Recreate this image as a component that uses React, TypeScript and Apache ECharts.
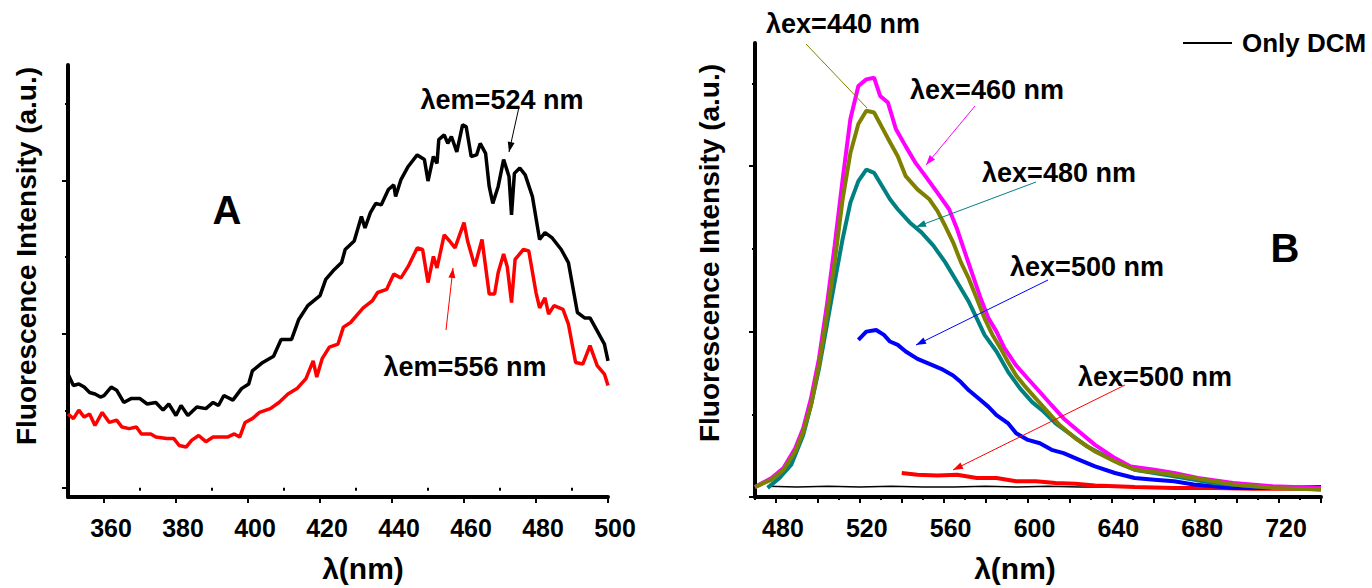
import React, { useEffect, useRef } from "react";
import * as echarts from "echarts";

const FONT = "'Liberation Sans', Arial, Helvetica, sans-serif";

// Panel A: excitation spectra, [wavelength (nm), intensity (a.u.)]
const excitationEm524: [number, number][] = [
  [350, 1.48], [351.5, 1.33], [353, 1.35], [354.5, 1.31], [356, 1.24], [357.5, 1.22], [359, 1.18], [360, 1.2],
  [362, 1.31], [363.5, 1.27], [365.5, 1.11], [367.5, 1.16], [370, 1.16], [372, 1.09], [374.4, 1.11], [376.4, 1.01],
  [378, 1.09], [380, 0.94], [381.4, 1.07], [383.3, 0.94], [385.8, 1.05], [388.3, 1.03], [390.3, 1.11], [391.8, 1.07],
  [393.3, 1.2], [395.8, 1.14], [398.2, 1.29], [400.2, 1.35], [401.2, 1.52], [404.1, 1.63], [407.1, 1.71], [409.2, 1.93],
  [412.1, 1.93], [414.1, 2.19], [416.6, 2.37], [420, 2.5], [421.6, 2.71], [424, 2.84], [426, 2.93], [427, 3.1],
  [429.5, 3.21], [431.5, 3.53], [432.5, 3.38], [434, 3.58], [435.5, 3.7], [437, 3.68], [439, 3.88], [440.5, 3.94],
  [441, 3.79], [442.5, 4.01], [444.5, 4.18], [447, 4.33], [449, 4.27], [450, 3.99], [451.5, 4.31], [452.5, 4.22],
  [453, 4.53], [454.5, 4.59], [455.5, 4.48], [456.5, 4.57], [458, 4.37], [459.6, 4.72], [460.6, 4.7], [462, 4.31],
  [463.5, 4.33], [464.5, 4.48], [466, 4.35], [467, 3.92], [468, 3.7], [469.5, 3.92], [471, 4.27], [472.5, 4.05],
  [473.2, 3.55], [474, 4.09], [475.5, 4.16], [477, 4.07], [479, 3.79], [481, 3.23], [482.5, 3.32], [484.5, 3.25],
  [487, 3.1], [489, 2.93], [491.5, 2.28], [493.5, 2.21], [495, 2.21], [497, 2.04], [499, 1.87], [500, 1.65],
];

const excitationEm556: [number, number][] = [
  [350, 0.96], [351.5, 0.9], [353, 1.01], [354.5, 0.92], [356, 0.96], [357.5, 0.81], [359.5, 0.98], [361.5, 0.85],
  [363.5, 0.88], [365, 0.79], [367, 0.77], [369, 0.79], [370.4, 0.7], [373, 0.7], [374.4, 0.66], [377.4, 0.64],
  [379.4, 0.64], [380.9, 0.55], [382.8, 0.53], [384.4, 0.62], [386.3, 0.68], [388.3, 0.6], [390.3, 0.66], [391.8, 0.66],
  [394.3, 0.66], [396.2, 0.7], [397.7, 0.66], [399.2, 0.85], [401.2, 0.9], [403.2, 0.98], [406.2, 1.03], [408.6, 1.11],
  [411.1, 1.22], [413.6, 1.29], [416.1, 1.42], [418.1, 1.65], [419.1, 1.44], [420.6, 1.68], [422.6, 1.83], [425, 1.87],
  [426.5, 2.09], [428.5, 2.15], [430.5, 2.26], [432, 2.34], [434.5, 2.43], [436, 2.54], [438.5, 2.58], [440.5, 2.78],
  [442.5, 2.73], [444.5, 2.88], [447, 3.12], [448.5, 3.1], [450, 2.67], [451.5, 3.01], [452.5, 2.86], [454.5, 3.29],
  [456, 3.21], [457.5, 3.12], [460, 3.45], [461, 3.21], [463, 2.88], [465, 3.23], [467, 2.52], [468.5, 2.52],
  [469.5, 2.8], [471, 3.04], [472, 2.88], [473.2, 2.41], [474.2, 2.97], [476.5, 3.1], [478, 3.08], [480, 2.54],
  [481, 2.34], [482.5, 2.47], [483.5, 2.26], [485, 2.37], [487.5, 2.32], [489, 2.13], [491, 1.63], [493, 1.61],
  [495, 1.85], [497, 1.59], [499, 1.48], [500, 1.33],
];

// Panel B: emission spectra, [wavelength (nm), intensity (a.u.)]
const emissionEx440: [number, number][] = [
  [470, 0.12], [477.9, 0.21], [483.6, 0.33], [489.2, 0.55], [493, 0.79], [496.7, 1.11], [500.5, 1.59], [504.3, 2.2],
  [508, 2.84], [511.8, 3.6], [515.5, 4.16], [519.3, 4.51], [523.1, 4.67], [526.8, 4.65], [530.6, 4.47], [534.4, 4.29],
  [538.1, 4.12], [541.9, 3.88], [547.5, 3.72], [553.2, 3.6], [557, 3.46], [560.7, 3.28], [564.5, 3.08], [568.2, 2.84],
  [572, 2.64], [575.8, 2.4], [579.5, 2.16], [583.3, 1.96], [587.1, 1.8], [590.8, 1.63], [594.6, 1.47], [598.4, 1.35],
  [604, 1.19], [609.7, 1.03], [615.3, 0.87], [622.8, 0.71], [632.2, 0.55], [641.7, 0.43], [651.1, 0.33], [664.2, 0.29],
  [679.3, 0.23], [698.1, 0.15], [717, 0.11], [740, 0.09],
];

const emissionEx460: [number, number][] = [
  [470, 0.12], [477.9, 0.23], [483.6, 0.35], [489.2, 0.59], [493, 0.83], [496.7, 1.19], [500.5, 1.67], [504.3, 2.32],
  [508, 3.04], [511.8, 3.84], [515.5, 4.57], [519.3, 4.97], [523.1, 5.05], [526.8, 5.07], [529.7, 4.85], [533.4, 4.77],
  [537.2, 4.45], [541.9, 4.24], [546.6, 4.04], [551.3, 3.88], [557, 3.68], [562.6, 3.48], [566.4, 3.24], [570.1, 2.96],
  [573.9, 2.68], [577.7, 2.4], [581.4, 2.16], [585.2, 2.0], [589, 1.8], [594.6, 1.59], [600.2, 1.43], [605.9, 1.27],
  [611.5, 1.11], [617.2, 0.95], [624.7, 0.79], [632.2, 0.63], [641.7, 0.47], [649.2, 0.37], [660.5, 0.33], [669.9, 0.29],
  [681.2, 0.23], [698.1, 0.17], [717, 0.13], [740, 0.11],
];

const emissionEx480: [number, number][] = [
  [476, 0.11], [481.7, 0.23], [487.3, 0.39], [493, 0.75], [496.7, 1.11], [500.5, 1.55], [504.3, 2.08], [508, 2.6],
  [511.8, 3.12], [515.5, 3.56], [519.3, 3.82], [523.1, 3.96], [526.8, 3.92], [530.6, 3.76], [534.4, 3.6], [538.1, 3.48],
  [543.8, 3.32], [549.4, 3.2], [555.1, 3.04], [560.7, 2.84], [566.4, 2.6], [572, 2.36], [575.8, 2.16], [579.5, 1.96],
  [585.2, 1.76], [590.8, 1.51], [596.5, 1.31], [602.1, 1.15], [607.8, 1.03], [613.4, 0.89], [620.9, 0.75], [628.5, 0.61],
  [636, 0.51], [643.5, 0.41], [651.1, 0.33], [669.9, 0.25], [688.7, 0.17], [707.5, 0.13], [740, 0.09],
];

const emissionEx500: [number, number][] = [
  [519.3, 1.9], [523.1, 2.0], [527.8, 2.02], [531.5, 1.96], [534.4, 1.88], [538.1, 1.84], [541.9, 1.76], [547.5, 1.67],
  [553.2, 1.61], [558.8, 1.55], [564.5, 1.47], [568.2, 1.39], [572, 1.29], [577.7, 1.17], [581.4, 1.09], [585.2, 0.99],
  [590.8, 0.89], [594.6, 0.77], [600.2, 0.69], [605.9, 0.65], [611.5, 0.57], [617.2, 0.53], [624.7, 0.45], [632.2, 0.37],
  [641.7, 0.29], [651.1, 0.23], [660.5, 0.21], [669.9, 0.19], [679.3, 0.15], [698.1, 0.11], [717, 0.11], [740, 0.12],
];

const emissionEx500Low: [number, number][] = [
  [540, 0.29], [547.5, 0.27], [557, 0.26], [566.4, 0.27], [575.8, 0.23], [585.2, 0.23], [594.6, 0.19], [604, 0.19],
  [613.4, 0.17], [622.8, 0.16], [632.2, 0.14], [641.7, 0.13], [651.1, 0.12], [669.9, 0.11], [688.7, 0.11], [707.5, 0.1],
  [726.4, 0.1], [740, 0.1],
];

const onlyDcm: [number, number][] = [
  [476, 0.13], [490, 0.12], [505, 0.13], [520, 0.12], [535, 0.13], [550, 0.12], [565, 0.12], [580, 0.13],
  [595, 0.12], [610, 0.13], [625, 0.12], [640, 0.12], [660, 0.12], [680, 0.11], [700, 0.11], [720, 0.12], [740, 0.12],
];

// Tick positions
const aMajorTicks = [360, 380, 400, 420, 440, 460, 480, 500];
const aMinorTicks = [350, 370, 390, 410, 430, 450, 470, 490];
const bMajorTicks = [480, 500, 520, 540, 560, 580, 600, 620, 640, 660, 680, 700, 720, 740];
const bLabelTicks = [480, 520, 560, 600, 640, 680, 720];
const bMinorTicks = [470, 490, 510, 530, 550, 570, 590, 610, 630, 650, 670, 690, 710, 730];
const yMajorTicks = [0, 2, 4];
const yMinorTicks = [1, 3, 5];

const BLACK = "#000000";
const RED = "#ff0000";
const OLIVE = "#808000";
const MAGENTA = "#ff00ff";
const TEAL = "#008080";
const BLUE = "#0000ff";

const Y_TITLE = "Fluorescence Intensity (a.u.)";
const X_TITLE = "λ(nm)";

function arrow(x1: number, y1: number, x2: number, y2: number, color: string, head = true) {
  const els: any[] = [
    { type: "line", shape: { x1, y1, x2, y2 }, style: { stroke: color, lineWidth: 1 }, z: 100 },
  ];
  if (head) {
    const ang = Math.atan2(y2 - y1, x2 - x1);
    const len = 10;
    const half = 3.5;
    const bx = x2 - len * Math.cos(ang);
    const by = y2 - len * Math.sin(ang);
    const px = -Math.sin(ang) * half;
    const py = Math.cos(ang) * half;
    els.push({
      type: "polygon",
      shape: { points: [[x2, y2], [bx + px, by + py], [bx - px, by - py]] },
      style: { fill: color },
      z: 100,
    });
  }
  return els;
}

function label(text: string, x: number, y: number, size: number, rotation = 0) {
  return {
    type: "text",
    z: 100,
    x,
    y,
    rotation,
    style: {
      text,
      x: 0,
      y: 0,
      fill: BLACK,
      fontSize: size,
      fontWeight: "bold",
      fontFamily: FONT,
      align: "center",
      verticalAlign: "middle",
      textAlign: "center",
      textVerticalAlign: "middle",
    },
  };
}

const tickStyle = { color: BLACK, width: 2 };
const tickLabelStyle = {
  fontSize: 25,
  fontWeight: "bold" as const,
  color: BLACK,
  fontFamily: FONT,
  margin: 18,
  padding: [0, 0, 0, 14],
};
const axisNameStyle = { fontSize: 30, fontWeight: "bold" as const, color: BLACK, fontFamily: FONT };

function lineSeries(name: string, data: [number, number][], color: string, width: number, axis: number) {
  return {
    name,
    type: "line",
    data,
    xAxisIndex: axis,
    yAxisIndex: axis,
    showSymbol: false,
    symbol: "none",
    lineStyle: { color, width },
    itemStyle: { color },
    clip: true,
  };
}

function xAxes(grid: number, min: number, max: number, major: number[], labels: number[], minor: number[], shift: number) {
  return [
    {
      gridIndex: grid, type: "value", position: "bottom", min, max,
      axisLine: { show: true, onZero: false, lineStyle: { color: BLACK, width: 4 } },
      axisTick: { show: true, customValues: major, length: 6, lineStyle: tickStyle },
      axisLabel: { ...tickLabelStyle, customValues: labels },
      splitLine: { show: false },
      name: X_TITLE, nameLocation: "middle", nameGap: 56,
      nameTextStyle: {
        ...axisNameStyle,
        padding: shift >= 0 ? [0, 0, 0, 2 * shift] : [0, -2 * shift, 0, 0],
      },
    },
    {
      gridIndex: grid, type: "value", position: "bottom", min, max,
      axisLine: { show: false },
      axisTick: { show: true, customValues: minor, length: 3, lineStyle: tickStyle },
      axisLabel: { show: false },
      splitLine: { show: false },
    },
  ];
}

function yAxes(grid: number, min: number, max: number) {
  return [
    {
      gridIndex: grid, type: "value", position: "left", min, max,
      axisLine: { show: true, onZero: false, lineStyle: { color: BLACK, width: 4 } },
      axisTick: { show: true, customValues: yMajorTicks, length: 6, lineStyle: tickStyle },
      axisLabel: { show: false },
      splitLine: { show: false },
    },
    {
      gridIndex: grid, type: "value", position: "left", min, max,
      axisLine: { show: false },
      axisTick: { show: true, customValues: yMinorTicks, length: 3, lineStyle: tickStyle },
      axisLabel: { show: false },
      splitLine: { show: false },
    },
  ];
}

export default function App() {
  const ref = useRef<HTMLDivElement>(null);

  useEffect(() => {
    if (!ref.current) return;
    const chart = echarts.init(ref.current, undefined, { renderer: "svg" });

    const option: any = {
      animation: false,
      backgroundColor: "#ffffff",
      legend: {
        data: ["Only DCM"],
        left: 1183,
        top: 30,
        padding: 0,
        icon: "rect",
        itemWidth: 49,
        itemHeight: 2,
        textStyle: {
          fontSize: 26, fontWeight: "bold", color: BLACK, fontFamily: FONT,
          padding: [14, 0, 0, 5],
        },
        selectedMode: false,
      },
      grid: [
        { left: 68, top: 65, width: 540, height: 433 },
        { left: 755, top: 43, width: 566, height: 456 },
      ],
      xAxis: [
        ...xAxes(0, 350, 500, aMajorTicks, aMajorTicks, aMinorTicks, 25),
        ...xAxes(1, 470, 740, bMajorTicks, bLabelTicks, bMinorTicks, -23),
      ],
      yAxis: [...yAxes(0, -0.12, 5.5), ...yAxes(1, 0, 5.49)],
      series: [
        lineSeries("λem=524 nm", excitationEm524, BLACK, 3.5, 0),
        lineSeries("λem=556 nm", excitationEm556, RED, 3.5, 0),
        lineSeries("Only DCM", onlyDcm, BLACK, 1.5, 2),
        lineSeries("λex=500 nm (low)", emissionEx500Low, RED, 4, 2),
        lineSeries("λex=500 nm", emissionEx500, BLUE, 4, 2),
        lineSeries("λex=480 nm", emissionEx480, TEAL, 4, 2),
        lineSeries("λex=460 nm", emissionEx460, MAGENTA, 4, 2),
        lineSeries("λex=440 nm", emissionEx440, OLIVE, 4, 2),
      ],
      graphic: [
        label(Y_TITLE, 26, 256, 28, Math.PI / 2),
        label(Y_TITLE, 709, 253, 28, Math.PI / 2),
        label("A", 227, 210, 40),
        label("B", 1285, 248, 40),
        label("λem=524 nm", 502, 100, 27),
        label("λem=556 nm", 465, 367, 27),
        ...arrow(519, 107, 509, 152, BLACK),
        ...arrow(446, 330, 453, 268, RED),
        label("λex=440 nm", 843, 24, 27),
        label("λex=460 nm", 987, 90, 27),
        label("λex=480 nm", 1059, 173, 27),
        label("λex=500 nm", 1087, 267, 27),
        label("λex=500 nm", 1155, 377, 27),
        ...arrow(806, 44, 867, 108, OLIVE, false),
        ...arrow(975, 106, 926, 165, MAGENTA),
        ...arrow(1036, 182, 916, 227, TEAL),
        ...arrow(1048, 280, 916, 345, BLUE),
        ...arrow(1125, 385, 953, 470, RED),
      ],
    };

    chart.setOption(option);
    return () => chart.dispose();
  }, []);

  return (
    <div
      ref={ref}
      style={{ position: "fixed", left: 0, top: 0, width: 1372, height: 588, background: "#fff" }}
    />
  );
}
